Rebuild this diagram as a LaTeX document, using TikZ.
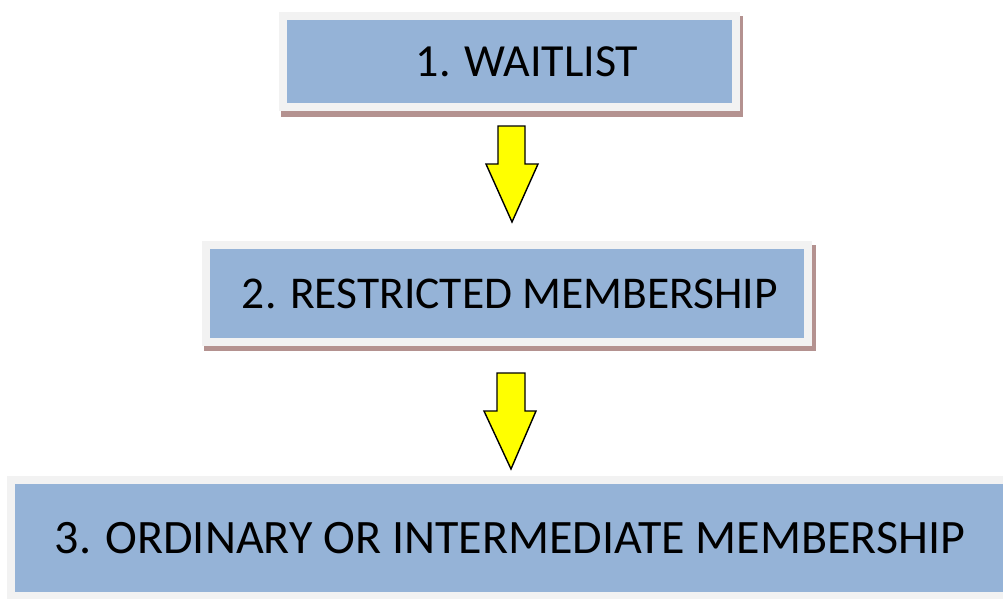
\documentclass[tikz,border=0pt]{standalone}
\usepackage{fontspec}
\setmainfont{Carlito}
\definecolor{boxblue}{HTML}{95B3D7}
\definecolor{boxrim}{HTML}{F2F2F2}
\definecolor{boxshadow}{HTML}{B49290}
\definecolor{arrowyellow}{HTML}{FFFF00}
\pgfdeclarelayer{shadowlayer}
\pgfsetlayers{shadowlayer,main}
\tikzset{
  stagebox/.style={rectangle, fill=boxblue, draw=boxrim, line width=8pt,
    inner sep=0pt, outer sep=0pt, text=black},
  blockarrow/.style={fill=arrowyellow, draw=black, line width=1.4pt, line join=miter}
}
\begin{document}
\begin{tikzpicture}[x=1pt,y=-1pt]
\useasboundingbox (0,0) rectangle (1003,598);
% boxes
\node[stagebox, minimum width=453pt, minimum height=91pt, font=\fontsize{46}{50}\selectfont] (b1) at (509.5,61.5) {\hspace*{35pt}1. WAITLIST};
\node[stagebox, minimum width=602pt, minimum height=97pt, font=\fontsize{45.5}{50}\selectfont] (b2) at (507,293.5) {\hspace*{6pt}2. RESTRICTED MEMBERSHIP};
\node[stagebox, minimum width=998pt, minimum height=116pt, font=\fontsize{48}{52}\selectfont] (b3) at (510,538) {3. ORDINARY OR INTERMEDIATE MEMBERSHIP};
% shadows
\begin{pgfonlayer}{shadowlayer}
\fill[boxshadow] ([xshift=-2pt]b1.north west) rectangle ([xshift=7pt,yshift=-10pt]b1.south east);
\fill[boxshadow] ([xshift=-2pt]b2.north west) rectangle ([xshift=8pt,yshift=-9pt]b2.south east);
\end{pgfonlayer}
% block arrows
\draw[blockarrow] (498,126) -- (525,126) -- (525,164) -- (538,164) -- (512,222) -- (486,164) -- (498,164) -- cycle;
\draw[blockarrow] (497,373) -- (525,373) -- (525,411) -- (536,411) -- (511,469) -- (484,411) -- (497,411) -- cycle;
\end{tikzpicture}
\end{document}
